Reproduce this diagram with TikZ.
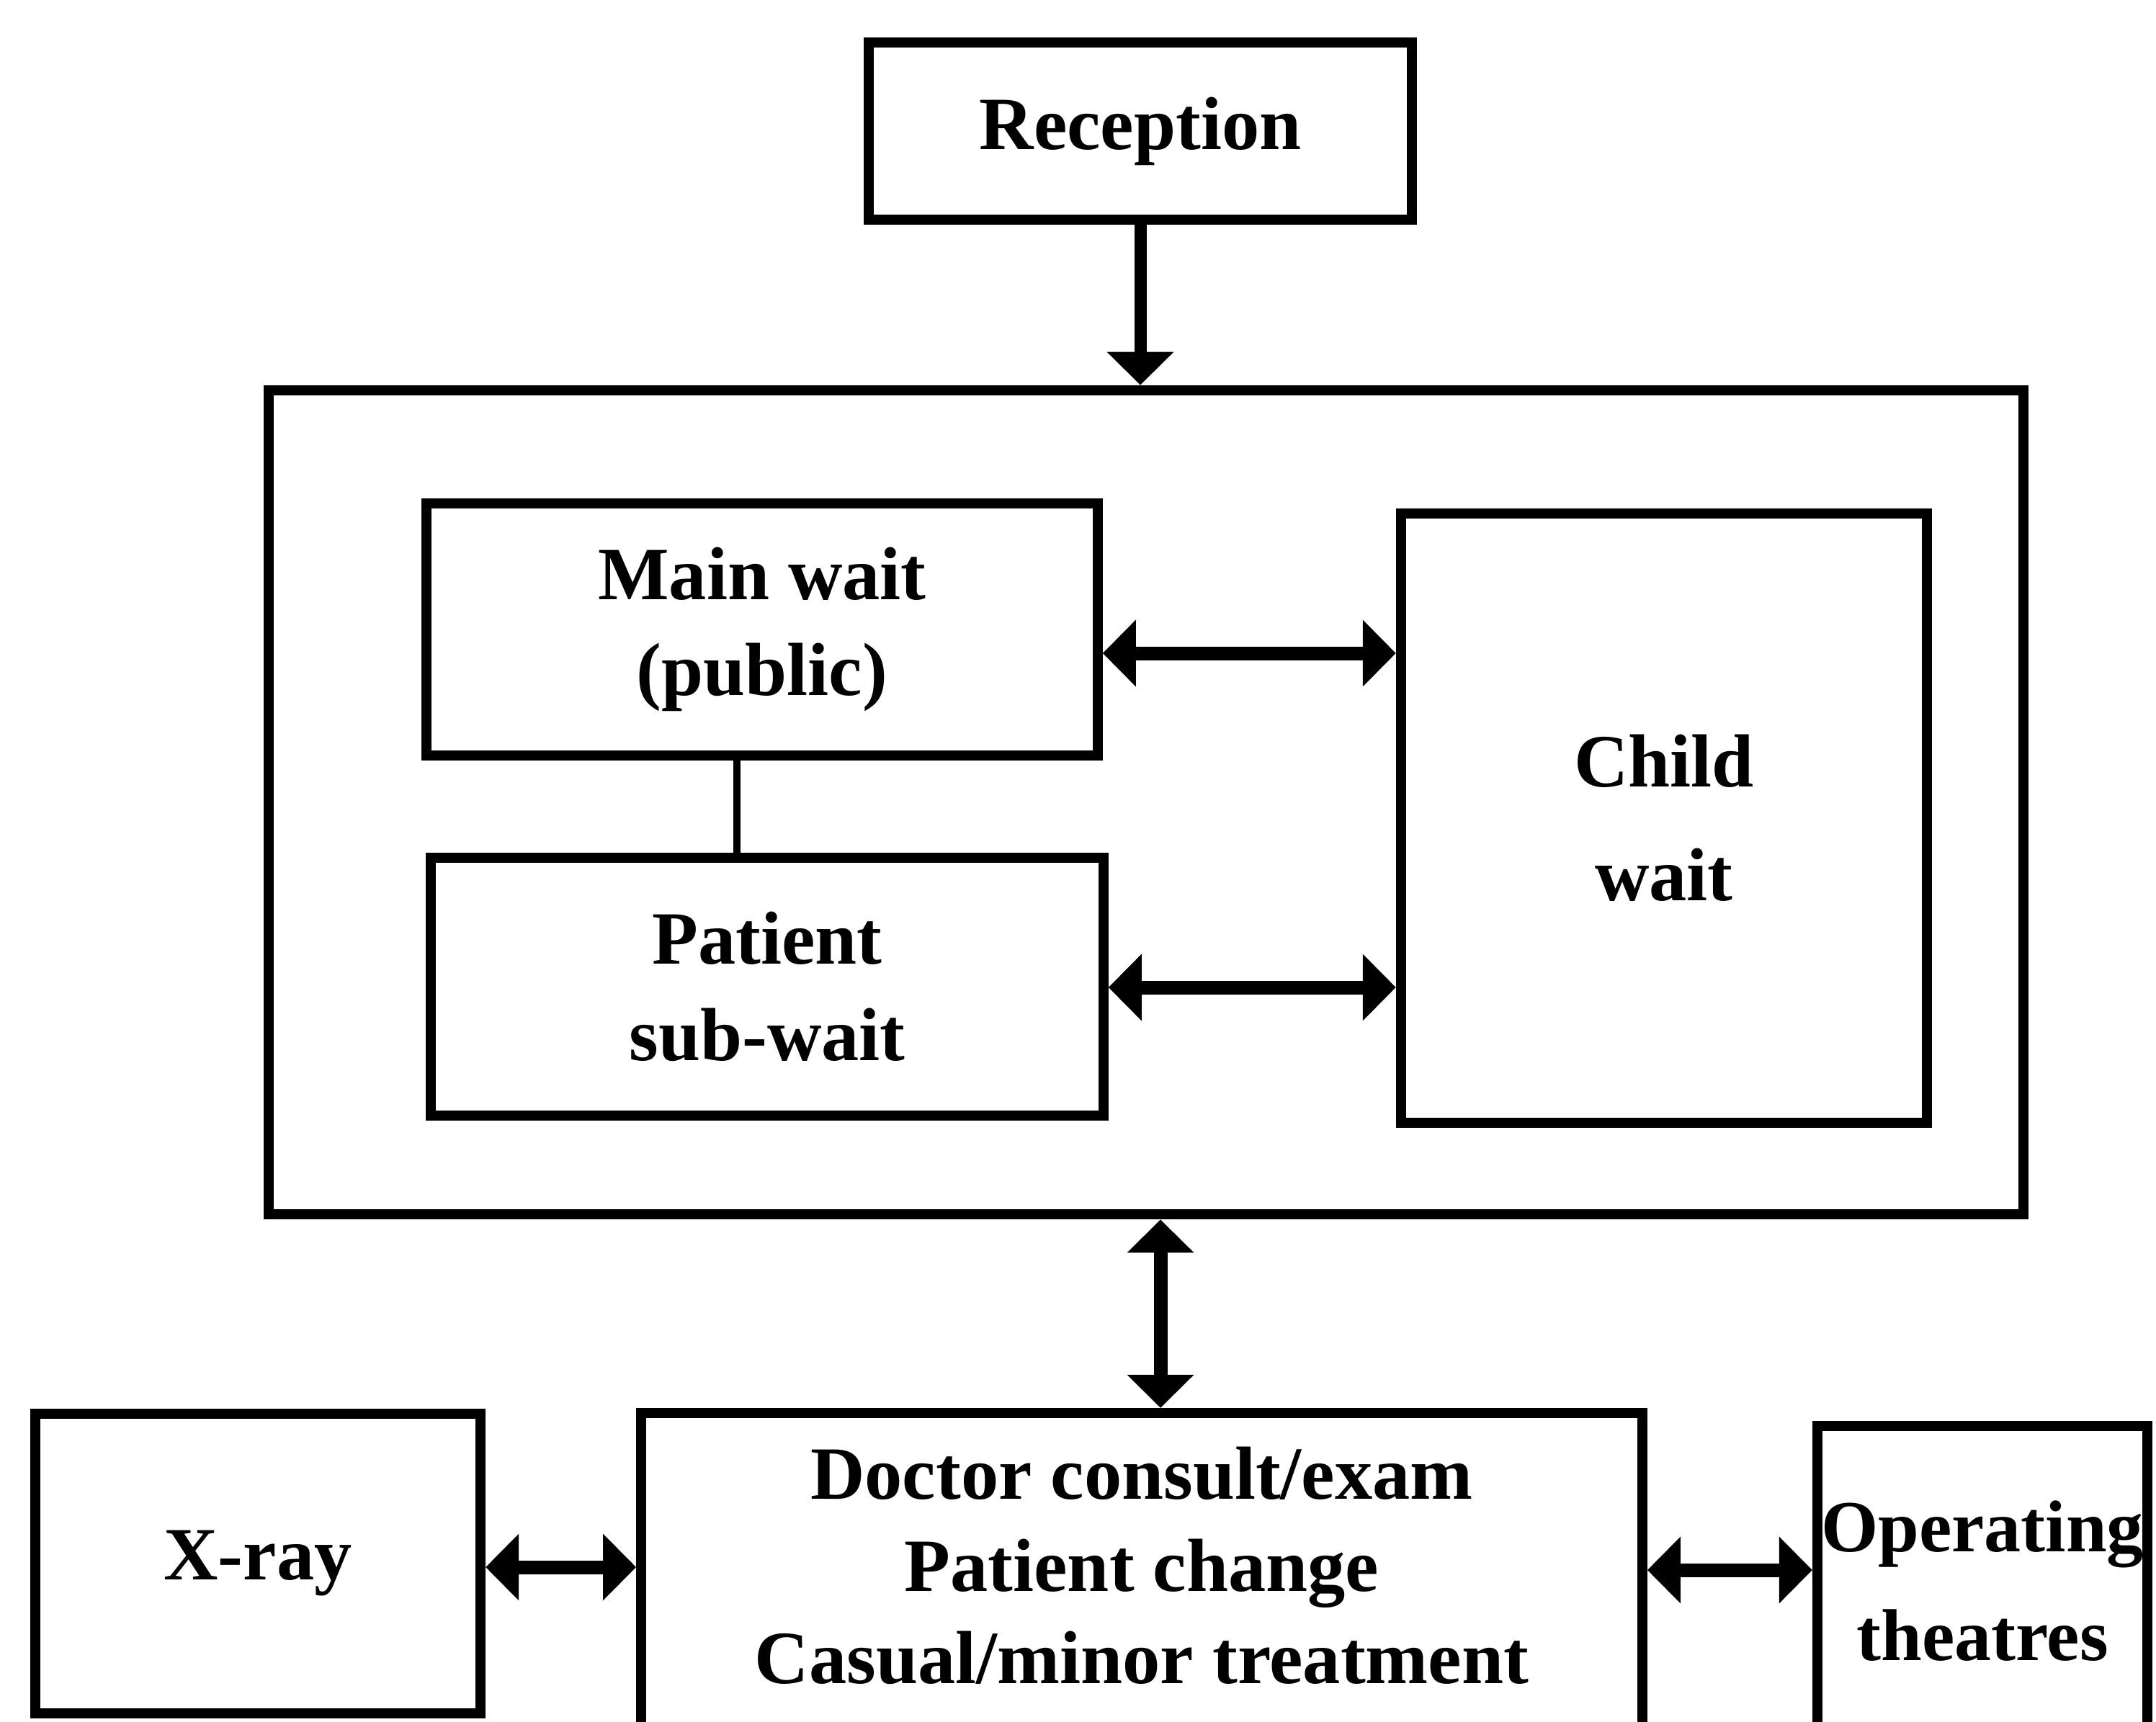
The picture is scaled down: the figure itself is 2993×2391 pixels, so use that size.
\documentclass[tikz,border=0pt]{standalone}
\usepackage{fontspec}
\setmainfont{Liberation Serif}
\usetikzlibrary{arrows.meta}
\begin{document}
\begin{tikzpicture}[x=0.01cm,y=-0.01cm,
  box/.style={draw, line width=0.14cm, rectangle, inner sep=0pt, align=center,
    font=\bfseries\fontsize{29.7}{38}\selectfont},
  txt/.style={inner sep=0pt, align=center, font=\bfseries\fontsize{29.7}{36.4}\selectfont},
  darr/.style={line width=0.19cm, {Triangle[length=0.46cm,width=0.9cm]}-{Triangle[length=0.46cm,width=0.9cm]}},
  sarr/.style={line width=0.17cm, -{Triangle[length=0.46cm,width=0.9cm]}},
  link/.style={line width=0.1cm}]
\useasboundingbox (0,0) rectangle (2993,2391);
\clip (0,0) rectangle (2993,2391);

% top: reception
\node[box, minimum width=7.53cm, minimum height=2.46cm] (rec) at (1583,182) {Reception};

% waiting area enclosure
\node[box, minimum width=24.35cm, minimum height=11.44cm] (outer) at (1591,1114) {};

% waiting rooms
\node[box, minimum width=9.31cm, minimum height=3.49cm] (main) at (1058,874) {Main wait\\(public)};
\node[box, minimum width=9.33cm, minimum height=3.58cm] (pat) at (1065,1370) {Patient\\sub-wait};
\node[box, minimum width=7.30cm, minimum height=8.45cm,
      font=\bfseries\fontsize{29.7}{45}\selectfont] (child) at (2310,1136) {Child\\wait};

% treatment row (lower edges run past the page)
\node[box, minimum width=6.18cm, minimum height=4.15cm] (xray) at (358,2171) {X-ray};
\node[box, minimum width=13.89cm, minimum height=4.60cm] (doc) at (1585,2192) {};
\node[txt] (doctxt) at (1585,2174) {Doctor consult/exam\\Patient change\\Casual/minor treatment};
\node[box, minimum width=4.58cm, minimum height=4.30cm,
      font=\bfseries\fontsize{29}{43}\selectfont] (op) at (2752,2195) {Operating\\theatres};

% connectors
\draw[sarr] (rec.south) -- (rec.south |- outer.north);

\coordinate (m1) at ([yshift=-0.33cm]main.east);
\draw[darr] (m1) -- (m1 -| child.west);
\coordinate (p1) at ([yshift=-0.01cm]pat.east);
\draw[darr] (p1) -- (p1 -| child.west);

\coordinate (ml) at ([xshift=-0.35cm]main.south);
\draw[link] (ml) -- (ml |- pat.north);

\coordinate (o1) at ([xshift=0.2cm]outer.south);
\draw[darr] (o1) -- (o1 |- doc.north);

\coordinate (x1) at ([yshift=-0.05cm]xray.east);
\draw[darr] (x1) -- (x1 -| doc.west);
\coordinate (d1) at ([yshift=0.12cm]doc.east);
\draw[darr] (d1) -- (d1 -| op.west);
\end{tikzpicture}
\end{document}
